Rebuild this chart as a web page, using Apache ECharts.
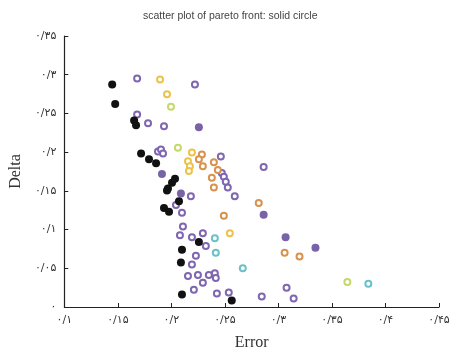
<!DOCTYPE html>
<html>
<head>
<meta charset="utf-8">
<script src="https://cdn.jsdelivr.net/npm/echarts@6/dist/echarts.min.js"></script>
<style>
  html, body { margin: 0; padding: 0; background: #fff; }
  #main { width: 454px; height: 356px; }
</style>
</head>
<body>
<div id="main"></div>
<script>
// [Error, Delta] pairs for each colour group
const blackFilled = [
  [0.1447, 0.2874], [0.1475, 0.2623], [0.1652, 0.2410], [0.1670, 0.2347],
  [0.1717, 0.1982], [0.1791, 0.1907], [0.1857, 0.1857], [0.2034, 0.1656],
  [0.2006, 0.1606], [0.1968, 0.1530], [0.1959, 0.1505], [0.1931, 0.1279],
  [0.1978, 0.1229], [0.2071, 0.1367], [0.2099, 0.0739], [0.2257, 0.0839],
  [0.2089, 0.0575], [0.2099, 0.0161], [0.2564, 0.0085]
]
const purpleFilled = [
  [0.2257, 0.2322], [0.1912, 0.1719], [0.2089, 0.1467], [0.2862, 0.1191],
  [0.3067, 0.0902], [0.3346, 0.0764]
]
const purpleHollow = [
  [0.1680, 0.2950], [0.2220, 0.2874], [0.1680, 0.2485], [0.1782, 0.2372],
  [0.1931, 0.2334], [0.1875, 0.2008], [0.1903, 0.2033], [0.1922, 0.1982],
  [0.2462, 0.1945], [0.2862, 0.1807], [0.2471, 0.1731], [0.2490, 0.1681],
  [0.2508, 0.1618], [0.2527, 0.1543], [0.2592, 0.1430], [0.2182, 0.1430],
  [0.2043, 0.1317], [0.2099, 0.1216], [0.2108, 0.1040], [0.2080, 0.0927],
  [0.2192, 0.0902], [0.2294, 0.0952], [0.2322, 0.0789], [0.2229, 0.0663],
  [0.2192, 0.0550], [0.2155, 0.0400], [0.2248, 0.0412], [0.2294, 0.0312],
  [0.2350, 0.0412], [0.2406, 0.0437], [0.2415, 0.0374], [0.2210, 0.0224],
  [0.2425, 0.0173], [0.2536, 0.0186], [0.2844, 0.0136], [0.3076, 0.0249],
  [0.3142, 0.0111]
]
const orangeHollow = [
  [0.2285, 0.1970], [0.2257, 0.1907], [0.2294, 0.1819], [0.2397, 0.1869],
  [0.2434, 0.1769], [0.2378, 0.1668], [0.2397, 0.1543], [0.2816, 0.1342],
  [0.2490, 0.1178], [0.3058, 0.0701], [0.3197, 0.0651]
]
const yellowHollow = [
  [0.1894, 0.2937], [0.1959, 0.2749], [0.2192, 0.1995], [0.2155, 0.1882],
  [0.2173, 0.1819], [0.2164, 0.1756], [0.2546, 0.0952]
]
const limeHollow = [
  [0.1996, 0.2585], [0.2061, 0.2058], [0.3644, 0.0324]
]
const cyanHollow = [
  [0.2406, 0.0889], [0.2415, 0.0701], [0.2667, 0.0500], [0.3840, 0.0299]
]

const titleText = 'scatter plot of pareto front: solid circle'
const xName = 'Error'
const yName = 'Delta'

// persian digits, "/" as decimal mark
const faDigits = ['۰', '۱', '۲', '۳', '۴', '۵', '۶', '۷', '۸', '۹']
function toFa(v) {
  const s = String(Number(v.toFixed(2))).replace('.', '/')
  return s.replace(/[0-9]/g, d => faDigits[+d])
}

const myChart = echarts.init(document.getElementById('main'))

function hollow(name, data, color) {
  return {
    name: name,
    type: 'scatter',
    data: data,
    symbol: 'circle',
    symbolSize: 6,
    itemStyle: { color: '#fff', borderColor: color, borderWidth: 2, opacity: 1 }
  }
}
function filled(name, data, color) {
  return {
    name: name,
    type: 'scatter',
    data: data,
    symbol: 'circle',
    symbolSize: 8,
    itemStyle: { color: color, opacity: 1 }
  }
}

const axisCommon = {
  axisLine: { lineStyle: { color: '#222', width: 1.2 } },
  axisTick: { inside: true, length: 4, lineStyle: { color: '#222' } },
  splitLine: { show: false },
  axisLabel: {
    color: '#333',
    fontSize: 11,
    fontFamily: 'DejaVu Sans',
    formatter: toFa
  },
  nameLocation: 'middle',
  nameTextStyle: { fontFamily: 'Liberation Serif', fontSize: 16, color: '#333' }
}

const option = {
  backgroundColor: '#fff',
  animation: false,
  title: {
    text: titleText,
    left: 138,
    top: 6,
    textStyle: { fontSize: 10.5, fontWeight: 'normal', color: '#444', fontFamily: 'Liberation Sans' }
  },
  grid: { left: 63, right: 15, top: 36, bottom: 41 },
  xAxis: Object.assign({}, axisCommon, {
    type: 'value',
    min: 0.1,
    max: 0.45,
    interval: 0.05,
    name: xName,
    nameGap: 28
  }),
  yAxis: Object.assign({}, axisCommon, {
    type: 'value',
    min: 0,
    max: 0.35,
    interval: 0.05,
    name: yName,
    nameGap: 38,
    nameRotate: 90
  }),
  series: [
    hollow('purple', purpleHollow, '#7f66b0'),
    hollow('orange', orangeHollow, '#d9924e'),
    hollow('yellow', yellowHollow, '#eec24a'),
    hollow('lime', limeHollow, '#c6d86a'),
    hollow('cyan', cyanHollow, '#6cc0c8'),
    filled('purpleFilled', purpleFilled, '#7a62a8'),
    filled('black', blackFilled, '#111')
  ]
}
myChart.setOption(option)
window.addEventListener('resize', function () {
  myChart.resize()
})
</script>
</body>
</html>
